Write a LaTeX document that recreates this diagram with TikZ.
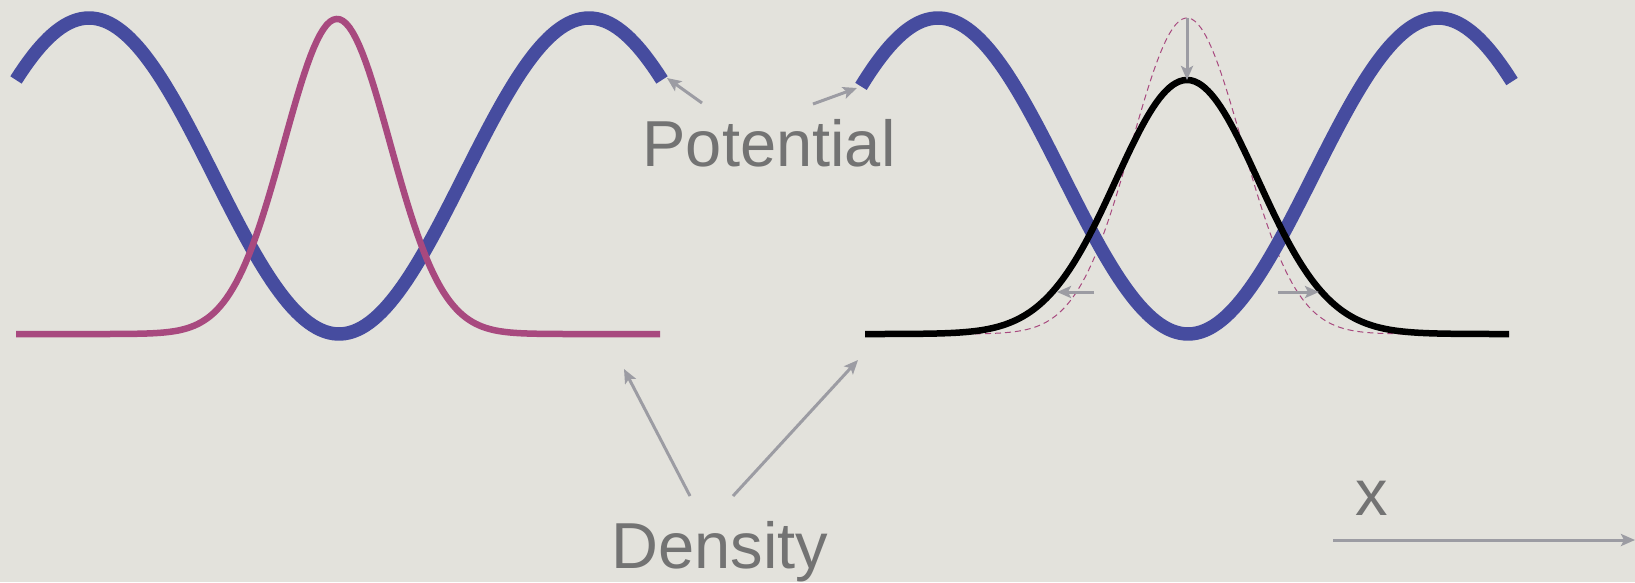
\documentclass[tikz,border=0pt]{standalone}
\usepackage{fontspec}
\setmainfont{Liberation Sans}
\usetikzlibrary{arrows.meta}
\definecolor{bg}{HTML}{E3E2DC}
\definecolor{potblue}{HTML}{464C9F}
\definecolor{denmag}{HTML}{A8497F}
\definecolor{arrgray}{HTML}{9C9CA3}
\definecolor{txtgray}{HTML}{737373}
\tikzset{
  potline/.style={draw=potblue, line width=13.5pt, line cap=butt, line join=round},
  denline/.style={draw=denmag, line width=6.5pt, line join=round},
  newline/.style={draw=black, line width=6.5pt, line join=round},
  oldline/.style={draw=denmag, line width=1pt, dash pattern=on 6pt off 4pt},
  pointer/.style={draw=arrgray, line width=3pt, -{Stealth[length=14pt,width=12pt,inset=3pt]}},
  label/.style={text=txtgray, font=\fontsize{65}{72}\selectfont, inner sep=0pt, anchor=base}
}
\begin{document}
\begin{tikzpicture}[x=1pt,y=-1pt]
\fill[bg] (0,0) rectangle (1635,582);
\useasboundingbox (0,0) rectangle (1635,582);

% left panel
\draw[potline] plot[domain=16:662,samples=160] (\x,{176-158*cos(0.72*(\x-89))});
\draw[denline] plot[domain=16:660,samples=200] (\x,{334-315*exp(-0.5*((\x-337)/53)^2)});

% right panel
\draw[oldline] plot[domain=865:1509,samples=200] (\x,{334-316*exp(-0.5*((\x-1187)/55)^2)});
\draw[potline] plot[domain=861:1512,samples=160] (\x,{176-158*cos(0.72*(\x-938))});
\draw[newline] plot[domain=865:1509,samples=200] (\x,{334-254*exp(-0.5*((\x-1187)/71)^2)});

% labels
\node[label] (pot) at (769,166) {Potential};
\node[label] (den) at (720,568) {Density};
\node[label] (xl) at (1372,515) {x};

% arrow coordinates
\coordinate (pa1) at (702,103); \coordinate (pb1) at (667,78);
\coordinate (pa2) at (813,104); \coordinate (pb2) at (857,88);
\coordinate (da1) at (690,496); \coordinate (db1) at (624,369);
\coordinate (da2) at (733,496); \coordinate (db2) at (858,360);
\coordinate (ta) at (1187,18); \coordinate (tb) at (1187,80);
\coordinate (la) at (1094,292); \coordinate (lb) at (1057,292);
\coordinate (ra) at (1278,292); \coordinate (rb) at (1319,292);
\coordinate (xa) at (1333,540); \coordinate (xb) at (1635,540);

\draw[pointer] (pa1) -- (pb1);
\draw[pointer] (pa2) -- (pb2);
\draw[pointer] (da1) -- (db1);
\draw[pointer] (da2) -- (db2);
\draw[pointer] (ta) -- (tb);
\draw[pointer] (la) -- (lb);
\draw[pointer] (ra) -- (rb);
\draw[pointer] (xa) -- (xb);
\end{tikzpicture}
\end{document}
